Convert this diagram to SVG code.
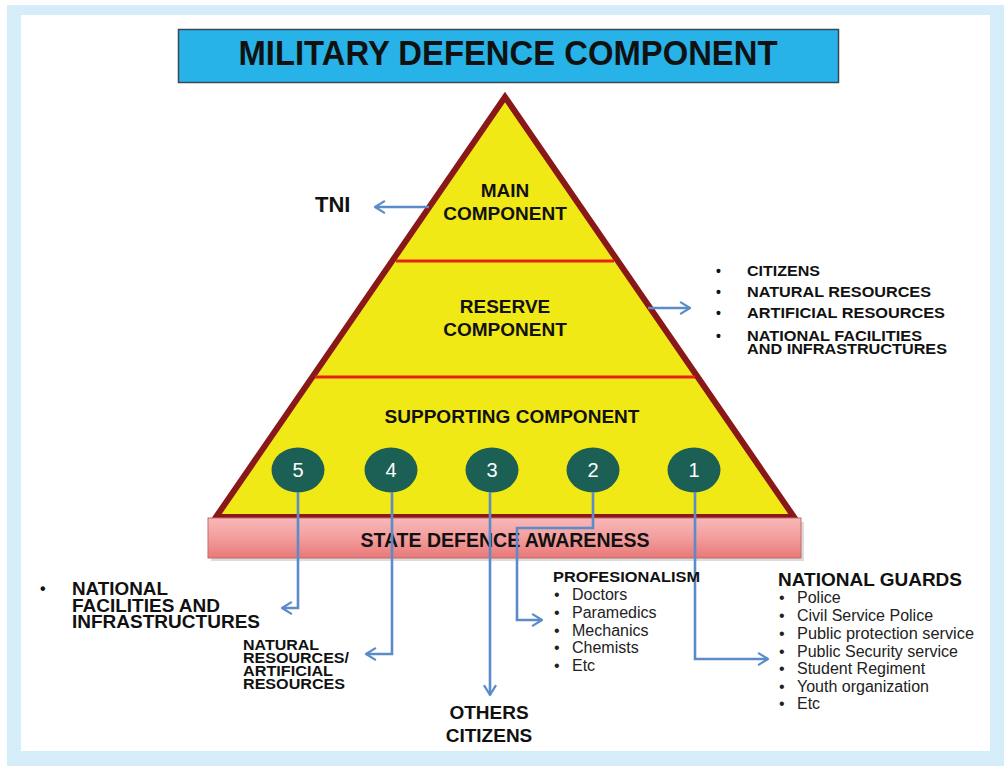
<svg xmlns="http://www.w3.org/2000/svg" width="1004" height="766" viewBox="0 0 1004 766">
<defs>
<linearGradient id="barGrad" x1="0" y1="0" x2="0" y2="1">
<stop offset="0" stop-color="#f8b8b8"/>
<stop offset="0.5" stop-color="#f39d9d"/>
<stop offset="1" stop-color="#e97878"/>
</linearGradient>
<marker id="chev" viewBox="0 0 10 10" refX="8.5" refY="5" markerWidth="14" markerHeight="14" orient="auto" markerUnits="userSpaceOnUse">
<path d="M2,1 L8.5,5 L2,9" fill="none" stroke="#5b8bc8" stroke-width="1.6" stroke-linecap="round" stroke-linejoin="round"/>
</marker>
</defs>
<style>
.b{font-family:"Liberation Sans",Arial,sans-serif;font-weight:bold;fill:#111}
.r{font-family:"Liberation Sans",Arial,sans-serif;fill:#222}
.c{text-anchor:middle}
.conn{fill:none;stroke:#5b8bc8;stroke-width:2.6;marker-end:url(#chev)}
.circ{fill:#1c5f54}
.num{font-family:"Liberation Sans",Arial,sans-serif;fill:#fff;font-size:20px;text-anchor:middle}
.div{stroke:#e8201c;stroke-width:3}
</style>
<rect x="0" y="0" width="1004" height="766" fill="#ffffff"/>
<rect x="7" y="5" width="997" height="761" fill="#d5edf9"/>
<rect x="21" y="15" width="969" height="736" fill="#ffffff"/>

<g id="title">
<rect x="178.5" y="29.5" width="660" height="53" fill="#27b2e8" stroke="#3a4a55" stroke-width="1.5"/>
<text class="b c" x="508" y="65" font-size="35" textLength="539" lengthAdjust="spacingAndGlyphs">MILITARY DEFENCE COMPONENT</text>
</g>

<g id="pyramid">
<polygon points="505,97 216,517 794,517" fill="#f1e915" stroke="#8a1818" stroke-width="6" stroke-linejoin="miter"/>
<line class="div" x1="396" y1="261" x2="614" y2="261"/>
<line class="div" x1="315" y1="377" x2="695" y2="377"/>
</g>

<g id="main-component">
<text class="b c" x="505" y="197" font-size="19">MAIN</text>
<text class="b c" x="505" y="220" font-size="19">COMPONENT</text>
</g>
<g id="reserve-component">
<text class="b c" x="505" y="313" font-size="19">RESERVE</text>
<text class="b c" x="505" y="336" font-size="19">COMPONENT</text>
</g>
<g id="supporting-component">
<text class="b c" x="512" y="423" font-size="19" textLength="255" lengthAdjust="spacingAndGlyphs">SUPPORTING COMPONENT</text>
</g>

<g id="state-defence-awareness">
<rect x="211" y="522" width="593" height="39" fill="#b9b9b9" opacity="0.5"/>
<rect x="208" y="518" width="593" height="40" fill="url(#barGrad)" stroke="#c46a6a" stroke-width="1"/>
<text class="b c" x="505" y="547" font-size="21" textLength="289" lengthAdjust="spacingAndGlyphs">STATE DEFENCE AWARENESS</text>
</g>

<g id="circle-5"><ellipse class="circ" cx="298" cy="470" rx="26.5" ry="22.5"/><text class="num" x="298" y="477">5</text></g>
<g id="circle-4"><ellipse class="circ" cx="391" cy="470" rx="26.5" ry="22.5"/><text class="num" x="391" y="477">4</text></g>
<g id="circle-3"><ellipse class="circ" cx="492" cy="470" rx="26.5" ry="22.5"/><text class="num" x="492" y="477">3</text></g>
<g id="circle-2"><ellipse class="circ" cx="593" cy="470" rx="26.5" ry="22.5"/><text class="num" x="593" y="477">2</text></g>
<g id="circle-1"><ellipse class="circ" cx="694" cy="470" rx="26.5" ry="22.5"/><text class="num" x="694" y="477">1</text></g>

<g id="connectors">
<path class="conn" d="M429,207 L375,207"/>
<path class="conn" d="M648,308 L690,308"/>
<path class="conn" d="M298,492 L298,608 L282,608"/>
<path class="conn" d="M392,492 L392,654 L366,654"/>
<path class="conn" d="M490,492 L490,695"/>
<path class="conn" d="M593,492 L593,528 L517,528 L517,620 L542,620"/>
<path class="conn" d="M695,492 L695,659 L768,659"/>
</g>

<g id="tni">
<text class="b" x="315" y="212" font-size="22">TNI</text>
</g>

<g id="reserve-list">
<text class="b" x="716" y="276" font-size="14">•</text>
<text class="b" x="716" y="297" font-size="14">•</text>
<text class="b" x="716" y="318" font-size="14">•</text>
<text class="b" x="716" y="341" font-size="14">•</text>
<text class="b" x="747" y="276" font-size="14.5" textLength="73" lengthAdjust="spacingAndGlyphs">CITIZENS</text>
<text class="b" x="747" y="297" font-size="14.5" textLength="184" lengthAdjust="spacingAndGlyphs">NATURAL RESOURCES</text>
<text class="b" x="747" y="318" font-size="14.5" textLength="198" lengthAdjust="spacingAndGlyphs">ARTIFICIAL RESOURCES</text>
<text class="b" x="747" y="341" font-size="14" textLength="175" lengthAdjust="spacingAndGlyphs">NATIONAL FACILITIES</text>
<text class="b" x="747" y="354" font-size="14" textLength="200" lengthAdjust="spacingAndGlyphs">AND INFRASTRUCTURES</text>
</g>

<g id="national-facilities">
<text class="b" x="40" y="594" font-size="16">•</text>
<text class="b" x="72" y="595" font-size="17.5" textLength="96" lengthAdjust="spacingAndGlyphs">NATIONAL</text>
<text class="b" x="72" y="612" font-size="17.5" textLength="148" lengthAdjust="spacingAndGlyphs">FACILITIES AND</text>
<text class="b" x="72" y="628" font-size="17.5" textLength="188" lengthAdjust="spacingAndGlyphs">INFRASTRUCTURES</text>
</g>

<g id="natural-resources">
<text class="b" x="243" y="650" font-size="14" textLength="76" lengthAdjust="spacingAndGlyphs">NATURAL</text>
<text class="b" x="243" y="663" font-size="14" textLength="106" lengthAdjust="spacingAndGlyphs">RESOURCES/</text>
<text class="b" x="243" y="676" font-size="14" textLength="90" lengthAdjust="spacingAndGlyphs">ARTIFICIAL</text>
<text class="b" x="243" y="689" font-size="14" textLength="102" lengthAdjust="spacingAndGlyphs">RESOURCES</text>
</g>

<g id="others-citizens">
<text class="b c" x="489" y="719" font-size="19">OTHERS</text>
<text class="b c" x="489" y="742" font-size="19">CITIZENS</text>
</g>

<g id="profesionalism">
<text class="b" x="553" y="582" font-size="14.5" textLength="147" lengthAdjust="spacingAndGlyphs">PROFESIONALISM</text>
<text class="r" x="554" y="600" font-size="16">•</text>
<text class="r" x="554" y="618" font-size="16">•</text>
<text class="r" x="554" y="636" font-size="16">•</text>
<text class="r" x="554" y="653" font-size="16">•</text>
<text class="r" x="554" y="671" font-size="16">•</text>
<text class="r" x="572" y="600" font-size="16">Doctors</text>
<text class="r" x="572" y="618" font-size="16">Paramedics</text>
<text class="r" x="572" y="636" font-size="16">Mechanics</text>
<text class="r" x="572" y="653" font-size="16">Chemists</text>
<text class="r" x="572" y="671" font-size="16">Etc</text>
</g>

<g id="national-guards">
<text class="b" x="778" y="586" font-size="19">NATIONAL GUARDS</text>
<text class="r" x="779" y="603" font-size="16">•</text>
<text class="r" x="779" y="621" font-size="16">•</text>
<text class="r" x="779" y="639" font-size="16">•</text>
<text class="r" x="779" y="657" font-size="16">•</text>
<text class="r" x="779" y="674" font-size="16">•</text>
<text class="r" x="779" y="692" font-size="16">•</text>
<text class="r" x="779" y="709" font-size="16">•</text>
<text class="r" x="797" y="603" font-size="16">Police</text>
<text class="r" x="797" y="621" font-size="16">Civil Service Police</text>
<text class="r" x="797" y="639" font-size="16" textLength="177" lengthAdjust="spacingAndGlyphs">Public protection service</text>
<text class="r" x="797" y="657" font-size="16">Public Security service</text>
<text class="r" x="797" y="674" font-size="16">Student Regiment</text>
<text class="r" x="797" y="692" font-size="16">Youth organization</text>
<text class="r" x="797" y="709" font-size="16">Etc</text>
</g>
</svg>
